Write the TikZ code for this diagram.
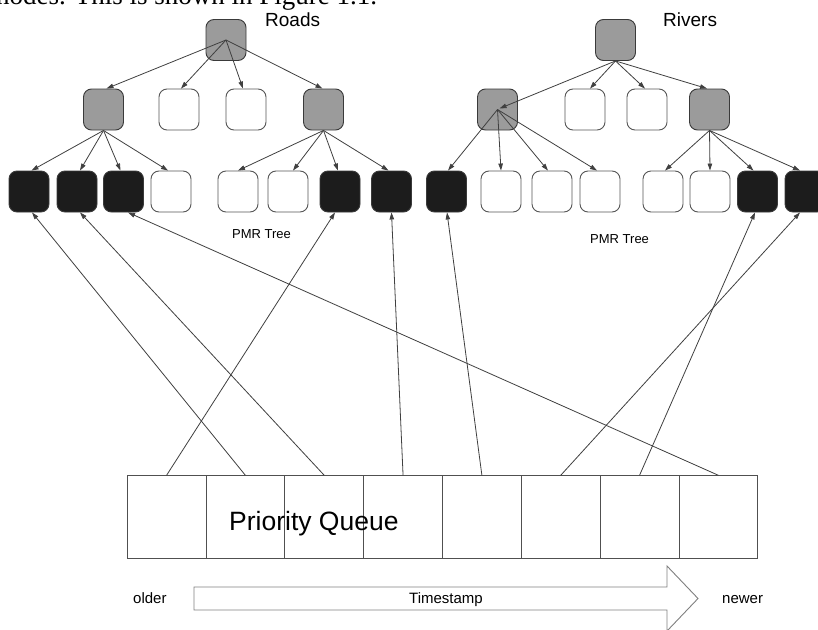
\documentclass[tikz,border=0pt]{standalone}
\usepackage{fontspec}
\setmainfont{Liberation Sans}
\newfontfamily\bodyserif{Liberation Serif}
\usetikzlibrary{arrows.meta,calc}

\definecolor{innergray}{HTML}{9B9B9B}
\definecolor{leafblack}{HTML}{1C1C1C}
\definecolor{boxline}{HTML}{3A3A3A}
\definecolor{emptyline}{HTML}{555555}
\definecolor{linkgray}{HTML}{404040}
\definecolor{cellline}{HTML}{505050}
\definecolor{arrowline}{HTML}{808080}

\begin{document}
\begin{tikzpicture}[x=1pt,y=-1pt,
  box/.style={draw=boxline, rounded corners=8pt, minimum width=40pt,
    minimum height=41pt, inner sep=0pt, line width=0.9pt},
  inner/.style={box, fill=innergray},
  leaf/.style={box, fill=leafblack},
  empty/.style={box, fill=white, draw=emptyline},
  link/.style={draw=linkgray, line width=0.8pt,
    -{Triangle[length=7pt,width=4.5pt]}},
  cell/.style={draw=cellline, line width=0.9pt, minimum width=78.83pt,
    minimum height=82.4pt, inner sep=0pt, anchor=north west},
  lbl/.style={anchor=base west, inner sep=0pt}]

\clip (0,0) rectangle (818,629);
\fill[white] (0,0) rectangle (818,629);

% running text line above the figure
\node[lbl, font=\bodyserif\fontsize{27}{30}\selectfont] (caption) at (-4,5)
  {nodes.  This is shown in Figure 1.1.};

% ---------------- Roads tree ----------------
\node[inner] (r0) at (226,40) {};
\node[inner] (r1) at (103.5,109.5) {};
\node[empty] (r2) at (179,109.5) {};
\node[empty] (r3) at (246,109.5) {};
\node[inner] (r4) at (323.5,109.5) {};
\node[leaf]  (rl1) at (29,191.5) {};
\node[leaf]  (rl2) at (77,191.5) {};
\node[leaf]  (rl3) at (123.5,191.5) {};
\node[empty] (rl4) at (171,191.5) {};
\node[empty] (rl5) at (238,191.5) {};
\node[empty] (rl6) at (288,191.5) {};
\node[leaf]  (rl7) at (340,191.5) {};
\node[leaf]  (rl8) at (391.5,191.5) {};

\node[lbl, font=\fontsize{19}{22}\selectfont] (roads) at (265,26) {Roads};
\node[lbl, font=\fontsize{13}{15}\selectfont] (pmr1) at (232,238) {PMR Tree};

\draw[link] (r0.center) -- ($(r1.north)+(3,0)$);
\draw[link] (r0.center) -- ($(r2.north)+(2,0)$);
\draw[link] (r0.center) -- ($(r3.north)+(-3,0)$);
\draw[link] (r0.center) -- ($(r4.north)+(-1,0)$);
\draw[link] (r1.south) -- ($(rl1.north)+(2.5,0)$);
\draw[link] (r1.south) -- ($(rl2.north)+(3,0)$);
\draw[link] (r1.south) -- ($(rl3.north)+(-3,0)$);
\draw[link] (r1.south) -- ($(rl4.north)+(-3,0)$);
\draw[link] (r4.south) -- (rl5.north);
\draw[link] (r4.south) -- ($(rl6.north)+(5,0)$);
\draw[link] (r4.south) -- ($(rl7.north)+(-2,0)$);
\draw[link] (r4.south) -- ($(rl8.north)+(-3,0)$);

% ---------------- Rivers tree ----------------
\node[inner] (v0) at (615.5,40) {};
\node[inner] (v1) at (497.5,109.5) {};
\node[empty] (v2) at (585,109.5) {};
\node[empty] (v3) at (647,109.5) {};
\node[inner] (v4) at (709.5,109.5) {};
\node[leaf]  (vl1) at (446.5,191.5) {};
\node[empty] (vl2) at (501,191.5) {};
\node[empty] (vl3) at (552,191.5) {};
\node[empty] (vl4) at (600,191.5) {};
\node[empty] (vl5) at (663,191.5) {};
\node[empty] (vl6) at (710,191.5) {};
\node[leaf]  (vl7) at (757.5,191.5) {};
\node[leaf]  (vl8) at (805,191.5) {};

\node[lbl, font=\fontsize{19}{22}\selectfont] (rivers) at (663,26) {Rivers};
\node[lbl, font=\fontsize{13}{15}\selectfont] (pmr2) at (590,243) {PMR Tree};

\draw[link] (v0.south) -- ($(v1.center)+(2,-1)$);
\draw[link] (v0.south) -- ($(v2.north)+(5,0)$);
\draw[link] (v0.south) -- ($(v3.north)+(-2,0)$);
\draw[link] (v0.south) -- ($(v4.north)+(-2.5,0)$);
\draw[link] (v1.center) -- ($(vl1.north)+(1.5,0)$);
\draw[link] (v1.center) -- (vl2.north);
\draw[link] (v1.center) -- ($(vl3.north)+(-4,0)$);
\draw[link] (v1.center) -- ($(vl4.north)+(-3,0)$);
\draw[link] (v4.south) -- ($(vl5.north)+(2,0)$);
\draw[link] (v4.south) -- (vl6.north);
\draw[link] (v4.south) -- ($(vl7.north)+(-4,0)$);
\draw[link] (v4.south) -- ($(vl8.north)+(-5,0)$);

% ---------------- Priority queue ----------------
\foreach \i in {1,...,8}
  \node[cell] (q\i) at ({126.7+(\i-1)*78.83},475.3) {};

\node[lbl, font=\fontsize{26.5}{30}\selectfont] (pq) at (229,530) {Priority Queue};

% queue entries pointing at the leaves they reference
\draw[link] (q1.north) -- ($(rl7.south)+(-5,0)$);
\draw[link] (q2.north) -- ($(rl1.south)+(3,0)$);
\draw[link] (q3.north) -- ($(rl2.south)+(3,0)$);
\draw[link] (q4.north) -- (rl8.south);
\draw[link] (q5.north) -- ($(vl1.south)+(0.5,0)$);
\draw[link] (q6.north) -- ($(vl8.south)+(-5,0)$);
\draw[link] (q7.north) -- ($(vl7.south)+(-2.5,0)$);
\draw[link] (q8.north) -- ($(rl3.south)+(4.5,0)$);

% ---------------- Timestamp arrow ----------------
\draw[draw=arrowline, line width=0.9pt, fill=white]
  (194,587) -- (667,587) -- (667,566) -- (698,598.5) -- (667,631)
  -- (667,610) -- (194,610) -- cycle;

\node[lbl, font=\fontsize{15}{18}\selectfont] (older) at (133,603) {older};
\node[lbl, font=\fontsize{15}{18}\selectfont] (stamp) at (409,603) {Timestamp};
\node[lbl, font=\fontsize{15}{18}\selectfont] (newer) at (722,603) {newer};

\end{tikzpicture}
\end{document}
